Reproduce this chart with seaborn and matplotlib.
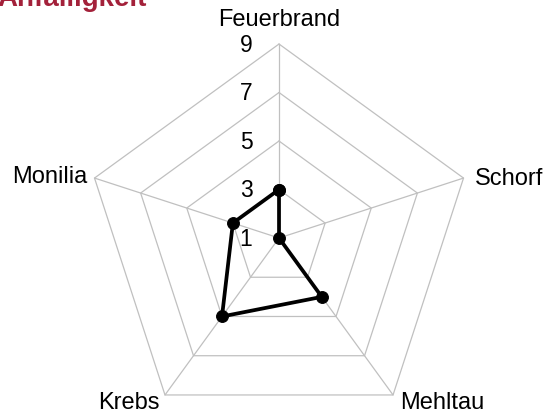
import numpy as np
import matplotlib.pyplot as plt
import seaborn as sns

categories = ["Feuerbrand", "Schorf", "Mehltau", "Krebs", "Monilia"]
values = [3, 1, 4, 5, 3]
ticks = [1, 3, 5, 7, 9]
title = "Anfälligkeit"

sns.set_style("white")
plt.rcParams["font.family"] = ["Liberation Sans", "DejaVu Sans"]
plt.rcParams["text.color"] = "black"

fig = plt.figure(figsize=(5.47, 4.14), dpi=100)
ax = fig.add_axes([0, 0, 1, 1])
ax.set_xlim(-11.505, 11.05)
ax.set_ylim(-7.216, 9.856)
ax.set_aspect("equal")
ax.axis("off")

n = len(categories)
angles = np.pi / 2 - 2 * np.pi * np.arange(n) / n
rmin = ticks[0]


def to_xy(vals):
    r = np.asarray(vals, dtype=float) - rmin
    return r * np.cos(angles), r * np.sin(angles)


# pentagon grid + spokes
grid_color = "#c0c0c0"
for t in ticks[1:]:
    gx, gy = to_xy([t] * n)
    ax.plot(np.append(gx, gx[0]), np.append(gy, gy[0]), color=grid_color, lw=0.9, zorder=1)
ox, oy = to_xy([ticks[-1]] * n)
for x, y in zip(ox, oy):
    ax.plot([0, x], [0, y], color=grid_color, lw=0.9, zorder=1)

# data polygon
dx, dy = to_xy(values)
sns.lineplot(x=np.append(dx, dx[0]), y=np.append(dy, dy[0]), sort=False, estimator=None,
             color="black", lw=2.7, marker="o", markersize=8.5, markeredgecolor="black",
             ax=ax, zorder=3)

# tick labels along the top spoke
for t in ticks:
    ax.annotate(str(t), xy=(0, t - rmin), xytext=(-33, 0), textcoords="offset pixels",
                ha="center", va="center", fontsize=16.5, color="black")

# category labels
offsets = [(0, 25, "center"), (11, 0, "left"), (7, -7, "left"), (-5, -7, "right"), (-7, 2, "right")]
for lab, x, y, (ox_, oy_, ha) in zip(categories, ox, oy, offsets):
    ax.annotate(lab, xy=(x, y), xytext=(ox_, oy_), textcoords="offset pixels",
                ha=ha, va="center", fontsize=17, color="black")

fig.text(-0.004, 1 - 6 / 414, title, fontsize=20, fontweight="bold", color="#a3213a",
         ha="left", va="baseline")

fig.savefig("out.png", dpi=100)
